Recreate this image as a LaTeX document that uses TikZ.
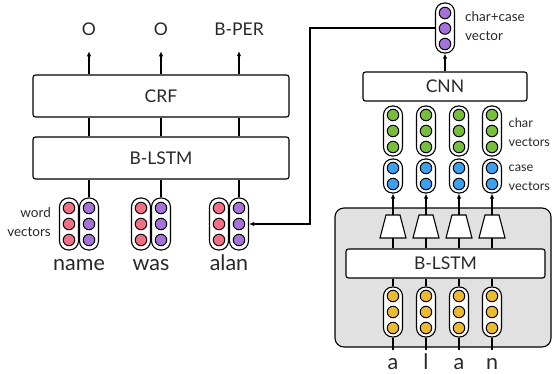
\documentclass[tikz,border=0pt]{standalone}
\usepackage{fontspec}
\setmainfont{Lato}
\usetikzlibrary{arrows.meta}
\definecolor{cred}{RGB}{242,112,133}
\definecolor{cpur}{RGB}{165,115,215}
\definecolor{cgreen}{RGB}{120,190,60}
\definecolor{cblue}{RGB}{60,160,240}
\definecolor{cyellow}{RGB}{235,185,50}
\definecolor{cgray}{RGB}{225,225,225}
\definecolor{ctext}{RGB}{40,40,40}
\tikzset{
  box/.style={draw, rounded corners=2.5pt, line width=1.1pt, fill=white, inner sep=0, text=ctext, font=\fontsize{17.5}{20}\selectfont},
  capsule/.style={draw, line width=1.1pt, rounded corners=9pt, minimum width=19pt, fill=white, inner sep=0},
  dotn/.style={circle, draw, line width=1pt, minimum size=11.5pt, inner sep=0},
  conn/.style={line width=1.1pt},
  arr/.style={line width=1.1pt, -{Latex[length=5pt,width=4.5pt]}},
  lbl/.style={inner sep=0, text=ctext, font=\fontsize{17.5}{20}\selectfont},
  word/.style={inner sep=0, text=ctext, font=\fontsize{21.5}{24}\selectfont},
  note/.style={inner sep=0, text=ctext, font=\fontsize{13.5}{19}\selectfont},
  sidenote/.style={inner sep=0, text=ctext, font=\fontsize{12.8}{19}\selectfont},
  trapline/.style={draw, fill=white, line width=1.1pt, line join=miter},
  graybox/.style={draw, fill=cgray, rounded corners=9pt, line width=1.1pt, inner sep=0},
}
\newcommand\vcap[6]{%
  \node[capsule, minimum height={(#4-#3)*1pt}] (#1) at (#2,{(#3+#4)/2}) {};
  \foreach \yy [count=\i] in {#6} \node[dotn, fill=#5] (#1d\i) at (#2,\yy) {};
}
\begin{document}
\begin{tikzpicture}[x=1pt,y=-1pt]
\useasboundingbox (0,0) rectangle (552,373);

% ---- left: word-level tagger
\node[box, minimum width=256pt, minimum height=42pt] (crf) at (161,96) {CRF};
\node[box, minimum width=256pt, minimum height=42pt] (lstm) at (161,158) {B-LSTM};
\node[lbl, anchor=base] (o1) at (89,35) {O};
\node[lbl, anchor=base] (o2) at (161,35) {O};
\node[lbl, anchor=base] (o3) at (239,35) {B-PER};

\vcap{wr1}{69}{198}{250}{cred}{208,224,240}
\vcap{wp1}{89}{198}{250}{cpur}{208,224,240}
\vcap{wr2}{141}{198}{250}{cred}{208,224,240}
\vcap{wp2}{161}{198}{250}{cpur}{208,224,240}
\vcap{wr3}{219}{198}{250}{cred}{208,224,240}
\vcap{wp3}{239}{198}{250}{cpur}{208,224,240}

\node[word, anchor=base] (w1) at (79,270) {name};
\node[word, anchor=base] (w2) at (151,270) {was};
\node[word, anchor=base] (w3) at (229,270) {alan};
\node[note, align=right, anchor=east] (wv) at (51,222) {word\\vectors};

\foreach \k in {1,2,3}{
  \draw[arr, shorten >=16pt] (crf.north -| o\k.south) -- (o\k.south);
  \draw[conn] (crf.south -| wp\k.north) -- (lstm.north -| wp\k.north);
  \draw[conn] (lstm.south -| wp\k.north) -- (wp\k.north);
}

% ---- right: character-level encoder
\node[graybox, minimum width=216pt, minimum height=139pt] (gbox) at (443,277.5) {};
\vcap{cc}{445}{3}{53}{cpur}{13,28.5,44}
\node[note, align=left, anchor=west] (ccl) at (465,26.5) {char+case\\vector};
\node[box, minimum width=164pt, minimum height=29pt] (cnn) at (445,86.5) {CNN};
\draw[arr] (cnn.north) -- (cc.south);
\coordinate (bend) at (310,28);
\draw[arr] (cc.west) -- (bend) |- (wp3.east);

\node[box, minimum width=199pt, minimum height=29pt] (lstm2) at (445.5,263.5) {B-LSTM};

\foreach \x/\n/\ch in {393/1/a,426/2/l,459/3/a,492/4/n}{
  \vcap{g\n}{\x}{106}{156}{cgreen}{115,131,147}
  \vcap{b\n}{\x}{159}{193}{cblue}{168,184}
  \coordinate (tt\n) at (\x,215);
  \coordinate (tb\n) at (\x,238);
  \path[trapline] ([xshift=-7pt]tt\n) -- ([xshift=7pt]tt\n) -- ([xshift=13pt]tb\n) -- ([xshift=-13pt]tb\n) -- cycle;
  \vcap{y\n}{\x}{287}{337}{cyellow}{296,312,328}
  \node[word, anchor=base, text height=19pt] (c\n) at (\x,369) {\ch};
  \draw[arr] (tt\n) -- (b\n.south);
  \draw[conn] (tb\n) -- (tb\n |- lstm2.north);
  \draw[conn] (lstm2.south -| y\n.north) -- (y\n.north);
  \draw[conn] (y\n.south) -- (y\n.south |- c\n.north);
}
\node[sidenote, align=left, anchor=west] (chl) at (508.5,132.5) {char\\vectors};
\node[sidenote, align=left, anchor=west] (csl) at (508.5,178) {case\\vectors};
\end{tikzpicture}
\end{document}
